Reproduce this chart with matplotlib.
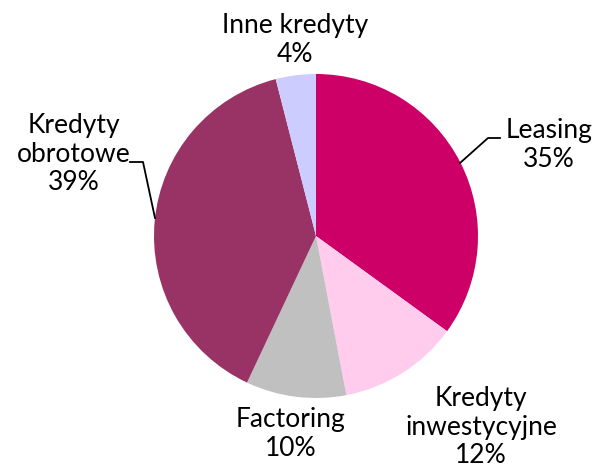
import numpy as np
import matplotlib.pyplot as plt

# data
categories = ['Leasing', 'Kredyty\ninwestycyjne', 'Factoring', 'Kredyty\nobrotowe', 'Inne kredyty']
shares = [35, 12, 10, 39, 4]
colors = ['#CC0066', '#FFCCEE', '#C0C0C0', '#993366', '#CCCCFF']

W, H = 593, 469
fig = plt.figure(figsize=(W / 100, H / 100), dpi=100)
ax = fig.add_axes([0, 0, 1, 1])

cx, cy, r = 316, H - 236, 162
ax.pie(shares, colors=colors, startangle=90, counterclock=False,
       center=(cx, cy), radius=r, frame=True,
       wedgeprops=dict(linewidth=0))
ax.set_xlim(0, W)
ax.set_ylim(0, H)
ax.set_aspect('equal')
ax.axis('off')

# label positions (pixels from top-left)
label_pos = [(549, 145), (481, 427), (291, 434), (74, 154), (295, 40)]
for name, val, (x, y) in zip(categories, shares, label_pos):
    ax.text(x, H - y, f'{name}\n{val}%', ha='center', va='center',
            fontsize=19, family='Lato', linespacing=1.18)

# leader lines
ax.plot([460, 488, 500], [H - 163, H - 138, H - 138], color='black', lw=1.3)
ax.plot([155, 143, 130], [H - 218, H - 162, H - 162], color='black', lw=1.3)

fig.savefig('out.png', dpi=100)
